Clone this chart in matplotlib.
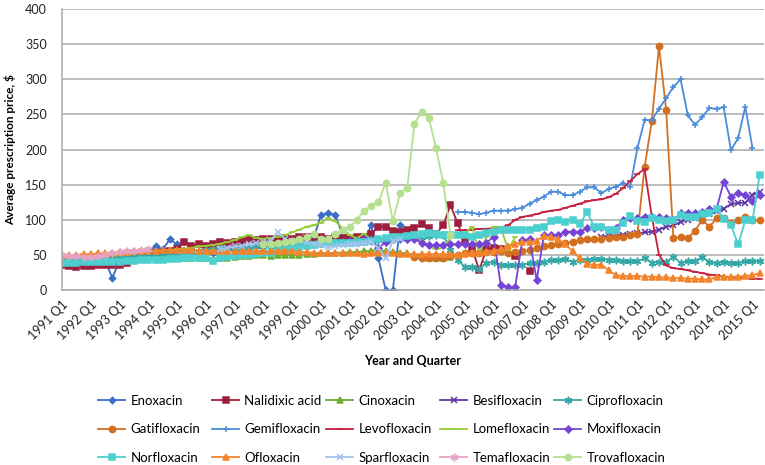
import numpy as np
import matplotlib
matplotlib.use("Agg")
import matplotlib.pyplot as plt

plt.rcParams['font.family'] = ['Lato', 'DejaVu Sans']
nan = np.nan

# 1991 Q1 .. 2015 Q2
quarters = [f"{y} Q{q}" for y in range(1991, 2016) for q in range(1, 5)][:98]

# values, each series starts at the quarter given
enoxacin = [40, 40, 41, 41, 41, 42, 42, 17, 42, 45, 48, 52, 55, 62, 58, 72,
            65, 55, 52, 50, 52, 53, 55, 57, 58, 60, 60, 62, 63, 64, 65, 65,
            67, 68, 70, 74, 107, 110, 107, 78, 70, 68, 70, 92, 45, 0, 0, 92, 72]
nalidixic = [35, 34, 33, 34, 34, 35, 35, 35, 36, 38, 42, 46, 50, 52, 53, 55,
             58, 68, 62, 65, 62, 65, 68, 67, 68, 70, 72, 71, 72, 72, 73, 74,
             73, 75, 76, 74, 76, 72, 75, 74, 73, 75, 76, 80, 90, 90, 84, 83,
             85, 88, 94, 88, 80, 92, 121, 95, 70, 60, 28, 58, 60, 58, nan, 48,
             nan, 27]
cinoxacin = [43, 43, 44, 44, 45, 45, 46, 46, 47, 48, 48, 47, 46, 47, 48, 48,
             47, 46, 45, 45, 45, 44, 45, 46, 47, 48, 49, 50, 50, 49, 50, 50,
             50, 50, 51, 51, 52, 52, 53, 53, 54, 54, 55, 56, 57, 55, 54, 53,
             52, 50, 48, 46, 45, 46, 47]
besifloxacin = [76, 77, 78, 79, 80, 81, 82, 83, 86, 90, 92, 97, 100, 103, 105,
                108, 112, 116, 122, 124, 124, 135, 140]
ciprofloxacin = [42, 42, 43, 43, 44, 44, 45, 45, 46, 46, 47, 48, 49, 50, 51, 52,
                 53, 54, 55, 56, 57, 58, 58, 59, 60, 60, 61, 62, 62, 63, 63, 64,
                 65, 65, 66, 66, 67, 67, 68, 68, 69, 69, 70, 70, 71, 71, 72, 73,
                 74, 75, 76, 77, 78, 79, 57, 43, 33, 33, 30, 38, 40, 36, 35, 35,
                 36, 38, 38, 40, 43, 42, 44, 40, 43, 43, 44, 44, 43, 43, 41, 41,
                 41, 45, 39, 40, 40, 47, 39, 41, 41, 47, 40, 38, 40, 38, 38, 41,
                 41, 41]
gatifloxacin = [47, 45, 45, 45, 46, 48, 50, 52, 52, 53, 54, 54, 55, 53, 54,
                55, 57, 60, 62, 64, 65, 67, 69, 71, 72, 72, 73, 74, 75, 76, 78,
                80, 175, 240, 347, 256, 74, 75, 74, 84, 100, 90, 102, 102, 95,
                99, 104, 99, 99]
gemifloxacin = [111, 111, 110, 108, 110, 113, 113, 113, 115, 117, 123, 128, 133,
                140, 140, 135, 135, 140, 146, 146, 138, 144, 147, 152, 147, 202,
                242, 242, 258, 273, 289, 300, 249, 235, 246, 259, 258, 260, 199,
                216, 261, 202]
levofloxacin = [85, 85, 86, 87, 87, 88, 89, 92, 100, 104, 106, 108, 111, 113,
                114, 117, 120, 123, 126, 128, 129, 132, 137, 145, 155, 165, 172,
                105, 50, 35, 31, 30, 28, 26, 24, 22, 21, 19, 18, 17, 17, 16, 16]
lomefloxacin = [46, 46, 47, 47, 48, 48, 49, 50, 50, 51, 52, 53, 54, 55, 56, 57,
                58, 59, 60, 62, 63, 64, 66, 68, 71, 75, 78, 74, 73, 74, 76, 78,
                82, 86, 90, 92, 96, 102, 98, 88, 78, 74, 80, 72, 70, 72, 76, 78,
                76, 74, 70, 62, 58, 60, 74, 76, 80, 90, 52, 75, 90, 90, 57, 75]
moxifloxacin = [70, 70, 72, 72, 60, 68, 75, 74, 73, 73, 67, 64, 64, 64, 65, 65,
                65, 65, 65, 67, 76, 7, 4, 4, 71, 72, 14, 78, 78, 78, 83, 83,
                83, 88, 88, 90, 85, 88, 100, 102, 102, 104, 104, 104, 102, 100,
                109, 109, 109, 111, 115, 115, 154, 133, 138, 135, 126, 135]
norfloxacin = [38, 39, 39, 40, 40, 40, 40, 40, 40, 41, 41, 42, 42, 43, 43, 44,
               44, 45, 45, 46, 46, 41, 46, 47, 48, 50, 50, 51, 52, 53, 55, 57,
               58, 60, 62, 64, 66, 68, 67, 67, 67, 68, 69, 70, 72, 74, 75, 76,
               77, 78, 80, 81, 80, 79, 78, 78, 78, 75, 78, 81, 83, 85, 85, 85,
               86, 86, 88, 90, 98, 100, 97, 100, 94, 111, 90, 90, 85, 85, 95, 105,
               98, 97, 103, 100, 98, 100, 107, 104, 104, 108, 110, 116, 101, 92,
               65, 99, 99, 164]
ofloxacin = [50, 50, 50, 51, 51, 52, 52, 53, 54, 54, 55, 55, 56, 56, 57, 57,
             57, 57, 57, 56, 56, 56, 55, 55, 55, 55, 56, 56, 55, 55, 56, 56,
             55, 54, 54, 53, 53, 52, 52, 52, 52, 52, 51, 52, 52, 52, 52, 51,
             51, 51, 51, 51, 51, 51, 51, 50, 51, 52, 53, 54, 56, 58, 62, 66,
             68, 68, 70, 77, 75, 72, 65, 55, 45, 37, 36, 36, 28, 21, 20, 20,
             20, 19, 19, 18, 18, 17, 17, 16, 16, 15, 15, 19, 19, 19, 19, 20,
             21, 24]
sparfloxacin = [58, 60, 62, 63, 65, 67, 68, 70, 83, 72, 70, 70, 68, 66, 64, 61,
                62, 64, 65, 66, 67, 68, 60, 45, 70, 72]
temafloxacin = [50, 49, 48, 47, 47, 48, 50, 52, 54, 56, 55, 57, 58]
trovafloxacin = [65, 66, 67, 68, 70, 72, 75, 80, 72, 72, 80, 85, 90, 100, 113,
                 120, 125, 153, 98, 138, 145, 237, 253, 245, 202, 153, 79]

star = (6, 2, 0)
series = [
    ("Enoxacin", "1991 Q1", enoxacin, "#3A6DC6", "D", 3.2),
    ("Nalidixic acid", "1991 Q1", nalidixic, "#9E1F3D", "s", 4.5),
    ("Cinoxacin", "1991 Q1", cinoxacin, "#6AAE2E", "^", 4.5),
    ("Besifloxacin", "2009 Q4", besifloxacin, "#6035A8", "x", 4.5),
    ("Ciprofloxacin", "1991 Q1", ciprofloxacin, "#33A8A6", star, 5.5),
    ("Gatifloxacin", "2003 Q2", gatifloxacin, "#D2701F", "o", 4.5),
    ("Gemifloxacin", "2004 Q4", gemifloxacin, "#4A8CDC", "+", 4.5),
    ("Levofloxacin", "2004 Q4", levofloxacin, "#C3203F", "_", 4),
    ("Lomefloxacin", "1991 Q1", lomefloxacin, "#95CC33", "_", 4),
    ("Moxifloxacin", "2001 Q1", moxifloxacin, "#7544D6", "D", 3.5),
    ("Norfloxacin", "1991 Q1", norfloxacin, "#4CCFCF", "s", 4.5),
    ("Ofloxacin", "1991 Q1", ofloxacin, "#F3842B", "^", 4.5),
    ("Sparfloxacin", "1996 Q3", sparfloxacin, "#A3C4EE", "x", 4.5),
    ("Temafloxacin", "1991 Q1", temafloxacin, "#E8A2C6", star, 5.5),
    ("Trovafloxacin", "1998 Q1", trovafloxacin, "#B5E08F", "o", 4.5),
]

x = np.arange(len(quarters))

fig = plt.figure(figsize=(7.65, 4.65), dpi=100)
ax = fig.add_axes([62 / 765, 1 - 290 / 465, (764 - 62) / 765, (290 - 9) / 465])

handles = []
for name, start, vals, col, mk, ms in series:
    y = np.full(len(quarters), nan)
    i0 = quarters.index(start)
    y[i0:i0 + len(vals)] = vals
    h, = ax.plot(x, y, color=col, lw=1.3, marker=mk, ms=ms, mfc=col, mec=col,
                 mew=1.1, label=name)
    handles.append(h)

ax.set_xlim(0, 97.6)
ax.set_ylim(0, 400)
ax.set_yticks(range(0, 401, 50))
ax.set_xticks(x[::4])
ax.set_xticklabels(quarters[::4], rotation=45, ha="right", rotation_mode="anchor")
ax.tick_params(axis="both", length=0, labelsize=9, colors="#222222")
ax.tick_params(axis="y", pad=11)
ax.tick_params(axis="x", pad=6)
ax.grid(axis="y", color="#A9A9A9", lw=1.1)
ax.set_axisbelow(True)
for s in ["top", "right"]:
    ax.spines[s].set_visible(False)
for s in ["left", "bottom"]:
    ax.spines[s].set_color("#A9A9A9")
    ax.spines[s].set_linewidth(1.1)

ax.set_ylabel("Average prescription price, $", fontsize=8.5, fontweight="bold")
ax.yaxis.set_label_coords(-46 / 702, 0.5)
ax.set_xlabel("Year and Quarter", fontsize=9, fontweight="bold", va="center")
ax.xaxis.set_label_coords(0.5, -71 / 281)

# five columns of three entries, evenly spaced like the original
col_x = [98, 212, 326, 440, 554]
for c in range(5):
    hs = handles[c::5]
    fig.legend(hs, [h.get_label() for h in hs], loc="upper left",
               bbox_to_anchor=(col_x[c] / 765, 1 - 395 / 465), frameon=False,
               fontsize=9.5, handlelength=2.05, handletextpad=0.4,
               borderpad=0, borderaxespad=0, labelspacing=1.25)

fig.savefig("out.png", dpi=100)
